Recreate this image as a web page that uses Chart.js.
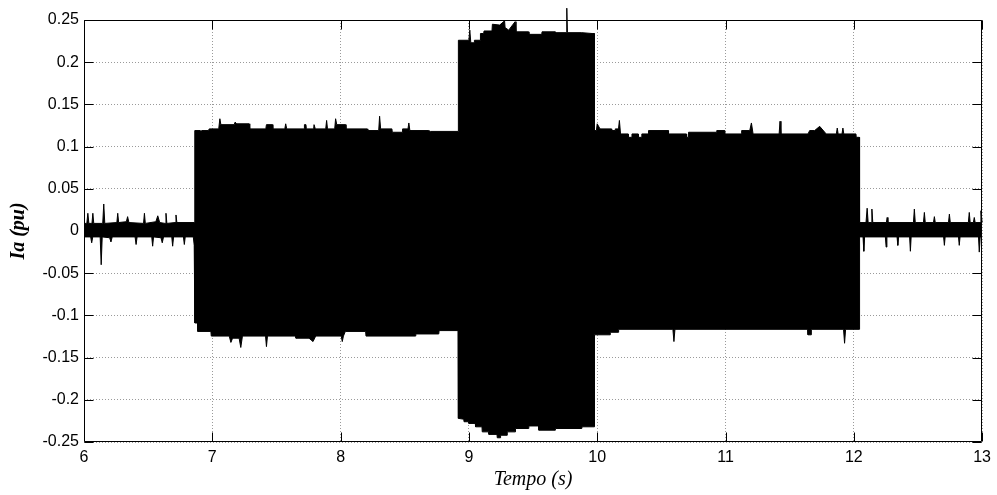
<!DOCTYPE html>
<html>
<head>
<meta charset="utf-8">
<script src="https://cdn.jsdelivr.net/npm/chart.js@4.4.1/dist/chart.umd.min.js"></script>
<style>
  html, body { margin: 0; padding: 0; background: #ffffff; }
  #wrap { width: 997px; height: 495px; }
</style>
</head>
<body>
<div id="wrap"><canvas id="c" width="997" height="495"></canvas></div>
<script>
// Envelope of the dense Ia waveform (time in s, value in pu)
const upperT = [
  6.000, 6.022, 6.030, 6.038, 6.062, 6.069, 6.076, 6.146, 6.154, 6.162,
  6.256, 6.263, 6.270, 6.330, 6.340, 6.350, 6.464, 6.471, 6.478, 6.560,
  6.575, 6.590, 6.632, 6.639, 6.646, 6.710, 6.717, 6.724, 6.858, 6.862,
  6.865, 6.905, 6.911, 6.918, 6.970, 6.976, 7.050, 7.059, 7.067, 7.170,
  7.178, 7.190, 7.287, 7.292, 7.417, 7.422, 7.469, 7.472, 7.565, 7.572,
  7.580, 7.715, 7.718, 7.730, 7.733, 7.790, 7.793, 7.800, 7.803, 7.884,
  7.891, 7.898, 7.954, 7.961, 7.970, 8.039, 8.042, 8.208, 8.212, 8.297,
  8.304, 8.312, 8.400, 8.403, 8.480, 8.483, 8.525, 8.532, 8.540, 8.687,
  8.700, 8.916, 8.918, 9.000, 9.007, 9.015, 9.040, 9.043, 9.087, 9.090,
  9.115, 9.118, 9.180, 9.183, 9.240, 9.278, 9.282, 9.310, 9.360, 9.367,
  9.465, 9.468, 9.568, 9.570, 9.672, 9.675, 9.758, 9.763, 9.768, 9.880,
  9.960, 9.977, 9.979, 9.994, 10.000, 10.022, 10.111, 10.113, 10.139, 10.141,
  10.166, 10.173, 10.182, 10.241, 10.243, 10.269, 10.271, 10.319, 10.321, 10.346,
  10.348, 10.398, 10.400, 10.554, 10.556, 10.695, 10.697, 10.710, 10.712, 10.930,
  10.932, 10.995, 10.997, 11.124, 11.126, 11.189, 11.202, 11.215, 11.418, 11.425,
  11.432, 11.643, 11.656, 11.695, 11.734, 11.785, 11.864, 11.871, 11.878, 11.908,
  11.915, 11.922, 12.017, 12.019, 12.043, 12.045, 12.095, 12.104, 12.112, 12.135,
  12.141, 12.148, 12.254, 12.260, 12.266, 12.465, 12.472, 12.479, 12.543, 12.550,
  12.557, 12.621, 12.628, 12.635, 12.738, 12.745, 12.752, 12.893, 12.900, 12.907,
  12.932, 12.939, 12.946, 12.984, 12.991, 13.000
];
const upperV = [
  0.009, 0.009, 0.021, 0.009, 0.009, 0.021, 0.009, 0.009, 0.032, 0.009,
  0.010, 0.021, 0.010, 0.011, 0.017, 0.010, 0.009, 0.021, 0.009, 0.011,
  0.018, 0.010, 0.009, 0.021, 0.009, 0.010, 0.019, 0.010, 0.010, 0.030,
  0.119, 0.119, 0.116, 0.119, 0.119, 0.121, 0.121, 0.133, 0.126, 0.126,
  0.129, 0.127, 0.127, 0.121, 0.121, 0.126, 0.126, 0.121, 0.121, 0.127,
  0.121, 0.121, 0.126, 0.126, 0.121, 0.121, 0.126, 0.126, 0.121, 0.121,
  0.131, 0.121, 0.121, 0.133, 0.126, 0.126, 0.121, 0.121, 0.119, 0.119,
  0.136, 0.121, 0.121, 0.117, 0.117, 0.121, 0.121, 0.128, 0.119, 0.119,
  0.118, 0.118, 0.226, 0.226, 0.238, 0.223, 0.223, 0.226, 0.226, 0.234,
  0.234, 0.237, 0.237, 0.245, 0.244, 0.249, 0.241, 0.238, 0.248, 0.236,
  0.236, 0.233, 0.233, 0.236, 0.236, 0.235, 0.235, 0.264, 0.235, 0.235,
  0.234, 0.234, 0.119, 0.119, 0.127, 0.121, 0.121, 0.119, 0.119, 0.121,
  0.121, 0.131, 0.115, 0.115, 0.111, 0.111, 0.115, 0.115, 0.111, 0.111,
  0.115, 0.115, 0.119, 0.119, 0.115, 0.115, 0.111, 0.111, 0.117, 0.117,
  0.119, 0.119, 0.115, 0.115, 0.119, 0.119, 0.128, 0.115, 0.115, 0.130,
  0.115, 0.115, 0.119, 0.119, 0.124, 0.115, 0.115, 0.122, 0.115, 0.115,
  0.122, 0.115, 0.115, 0.111, 0.111, 0.010, 0.010, 0.027, 0.010, 0.010,
  0.026, 0.010, 0.010, 0.016, 0.010, 0.010, 0.026, 0.010, 0.010, 0.022,
  0.010, 0.010, 0.017, 0.010, 0.010, 0.020, 0.010, 0.010, 0.022, 0.010,
  0.010, 0.016, 0.010, 0.010, 0.024, 0.010
];
const lowerT = [
  6.000, 6.052, 6.060, 6.068, 6.126, 6.134, 6.142, 6.200, 6.210, 6.220,
  6.398, 6.406, 6.414, 6.528, 6.535, 6.542, 6.600, 6.610, 6.620, 6.684,
  6.691, 6.698, 6.775, 6.782, 6.789, 6.852, 6.859, 6.863, 6.865, 6.885,
  6.887, 6.989, 6.992, 7.132, 7.145, 7.158, 7.209, 7.222, 7.235, 7.415,
  7.422, 7.430, 7.650, 7.652, 7.754, 7.785, 7.806, 8.005, 8.013, 8.022,
  8.037, 8.195, 8.198, 8.584, 8.586, 8.765, 8.768, 8.916, 8.918, 8.960,
  8.962, 8.998, 9.000, 9.050, 9.052, 9.102, 9.104, 9.154, 9.156, 9.219,
  9.221, 9.245, 9.247, 9.297, 9.299, 9.361, 9.363, 9.465, 9.467, 9.543,
  9.545, 9.672, 9.674, 9.880, 9.882, 9.977, 9.979, 10.100, 10.102, 10.165,
  10.167, 10.590, 10.598, 10.606, 11.641, 11.643, 11.667, 11.669, 11.920, 11.928,
  11.936, 12.043, 12.045, 12.072, 12.078, 12.084, 12.246, 12.252, 12.258, 12.337,
  12.343, 12.349, 12.435, 12.441, 12.447, 12.700, 12.706, 12.712, 12.816, 12.822,
  12.828, 12.972, 12.978, 12.985, 13.000
];
const lowerV = [
  -0.007, -0.007, -0.014, -0.007, -0.007, -0.040, -0.007, -0.008, -0.013, -0.007,
  -0.007, -0.016, -0.007, -0.007, -0.018, -0.007, -0.008, -0.014, -0.007, -0.007,
  -0.018, -0.007, -0.007, -0.016, -0.007, -0.007, -0.017, -0.010, -0.109, -0.109,
  -0.119, -0.119, -0.1245, -0.1245, -0.132, -0.127, -0.127, -0.138, -0.1245, -0.1245,
  -0.137, -0.1245, -0.1245, -0.127, -0.127, -0.131, -0.1245, -0.1245, -0.131, -0.1245,
  -0.119, -0.119, -0.1245, -0.1245, -0.122, -0.122, -0.118, -0.118, -0.222, -0.223,
  -0.226, -0.226, -0.228, -0.228, -0.232, -0.232, -0.238, -0.238, -0.241, -0.241,
  -0.245, -0.245, -0.242, -0.242, -0.238, -0.238, -0.234, -0.234, -0.231, -0.231,
  -0.236, -0.236, -0.234, -0.234, -0.232, -0.232, -0.123, -0.123, -0.120, -0.120,
  -0.1165, -0.1165, -0.131, -0.1165, -0.1165, -0.123, -0.123, -0.1165, -0.1165, -0.133,
  -0.1165, -0.1165, -0.007, -0.007, -0.024, -0.007, -0.007, -0.019, -0.007, -0.007,
  -0.017, -0.007, -0.007, -0.024, -0.007, -0.007, -0.017, -0.007, -0.007, -0.017,
  -0.007, -0.007, -0.025, -0.007, -0.007
];
const xTickValues = [6, 7, 8, 9, 10, 11, 12, 13];
const xTickLabels = ['6', '7', '8', '9', '10', '11', '12', '13'];
const yTickValues = [-0.25, -0.2, -0.15, -0.1, -0.05, 0, 0.05, 0.1, 0.15, 0.2, 0.25];
const yTickLabels = ['-0.25', '-0.2', '-0.15', '-0.1', '-0.05', '0', '0.05', '0.1', '0.15', '0.2', '0.25'];

const toXY = (ts, vs) => ts.map((t, i) => ({ x: t, y: vs[i] }));

const framePlugin = {
  id: 'frame',
  afterDraw(chart) {
    const { ctx, chartArea: a, scales } = chart;
    const L = Math.round(a.left) + 0.5, R = Math.round(a.right) - 0.5;
    const T = Math.round(a.top) + 0.5, B = Math.round(a.bottom) - 0.5;
    ctx.save();
    ctx.strokeStyle = '#000';
    ctx.lineWidth = 1;
    ctx.beginPath();
    ctx.rect(L, T, R - L, B - T);
    const len = 9;
    scales.x.ticks.forEach(tk => {
      const px = Math.round(scales.x.getPixelForValue(tk.value)) + 0.5;
      ctx.moveTo(px, B); ctx.lineTo(px, B - len);
      ctx.moveTo(px, T); ctx.lineTo(px, T + len);
    });
    scales.y.ticks.forEach(tk => {
      const py = Math.round(scales.y.getPixelForValue(tk.value)) + 0.5;
      ctx.moveTo(L, py); ctx.lineTo(L + len, py);
      ctx.moveTo(R, py); ctx.lineTo(R - len, py);
    });
    ctx.stroke();
    ctx.restore();
  }
};

new Chart(document.getElementById('c'), {
  type: 'line',
  data: {
    datasets: [
      { label: 'Ia+', data: toXY(upperT, upperV), borderColor: '#000', backgroundColor: '#000',
        borderWidth: 1, pointRadius: 0, fill: 'origin', tension: 0, clip: false },
      { label: 'Ia-', data: toXY(lowerT, lowerV), borderColor: '#000', backgroundColor: '#000',
        borderWidth: 1, pointRadius: 0, fill: 'origin', tension: 0, clip: false }
    ]
  },
  options: {
    responsive: false,
    devicePixelRatio: 1,
    animation: false,
    layout: { padding: { top: 20, right: 12, bottom: 0, left: 0 } },
    plugins: { legend: { display: false }, tooltip: { enabled: false } },
    scales: {
      x: {
        type: 'linear', min: 6, max: 13,
        afterBuildTicks: s => { s.ticks = xTickValues.map(v => ({ value: v })); },
        afterFit: s => { s.height = 53; },
        ticks: {
          autoSkip: false, maxRotation: 0, padding: 6, color: '#000',
          font: { family: 'Liberation Sans, Arial, sans-serif', size: 16 },
          callback: (v, i) => xTickLabels[i]
        },
        grid: { color: '#9a9a9a', lineWidth: 1, drawTicks: false },
        border: { display: false, dash: [1, 2] },
        title: {
          display: true, text: 'Tempo (s)', color: '#000',
          font: { family: 'Liberation Serif, Times New Roman, serif', size: 20, style: 'italic' },
          padding: { top: 0, bottom: 3 }
        }
      },
      y: {
        type: 'linear', min: -0.25, max: 0.25,
        afterBuildTicks: s => { s.ticks = yTickValues.map(v => ({ value: v })); },
        afterFit: s => { s.width = 84; },
        ticks: {
          autoSkip: false, padding: 5, color: '#000',
          font: { family: 'Liberation Sans, Arial, sans-serif', size: 16 },
          callback: (v, i) => yTickLabels[i]
        },
        grid: { color: '#9a9a9a', lineWidth: 1, drawTicks: false },
        border: { display: false, dash: [1, 2] },
        title: {
          display: true, text: 'Ia (pu)', color: '#000',
          font: { family: 'Liberation Serif, Times New Roman, serif', size: 20, style: 'italic', weight: 'bold' },
          padding: { top: 7, bottom: 0 }
        }
      }
    }
  },
  plugins: [framePlugin]
});
</script>
</body>
</html>
